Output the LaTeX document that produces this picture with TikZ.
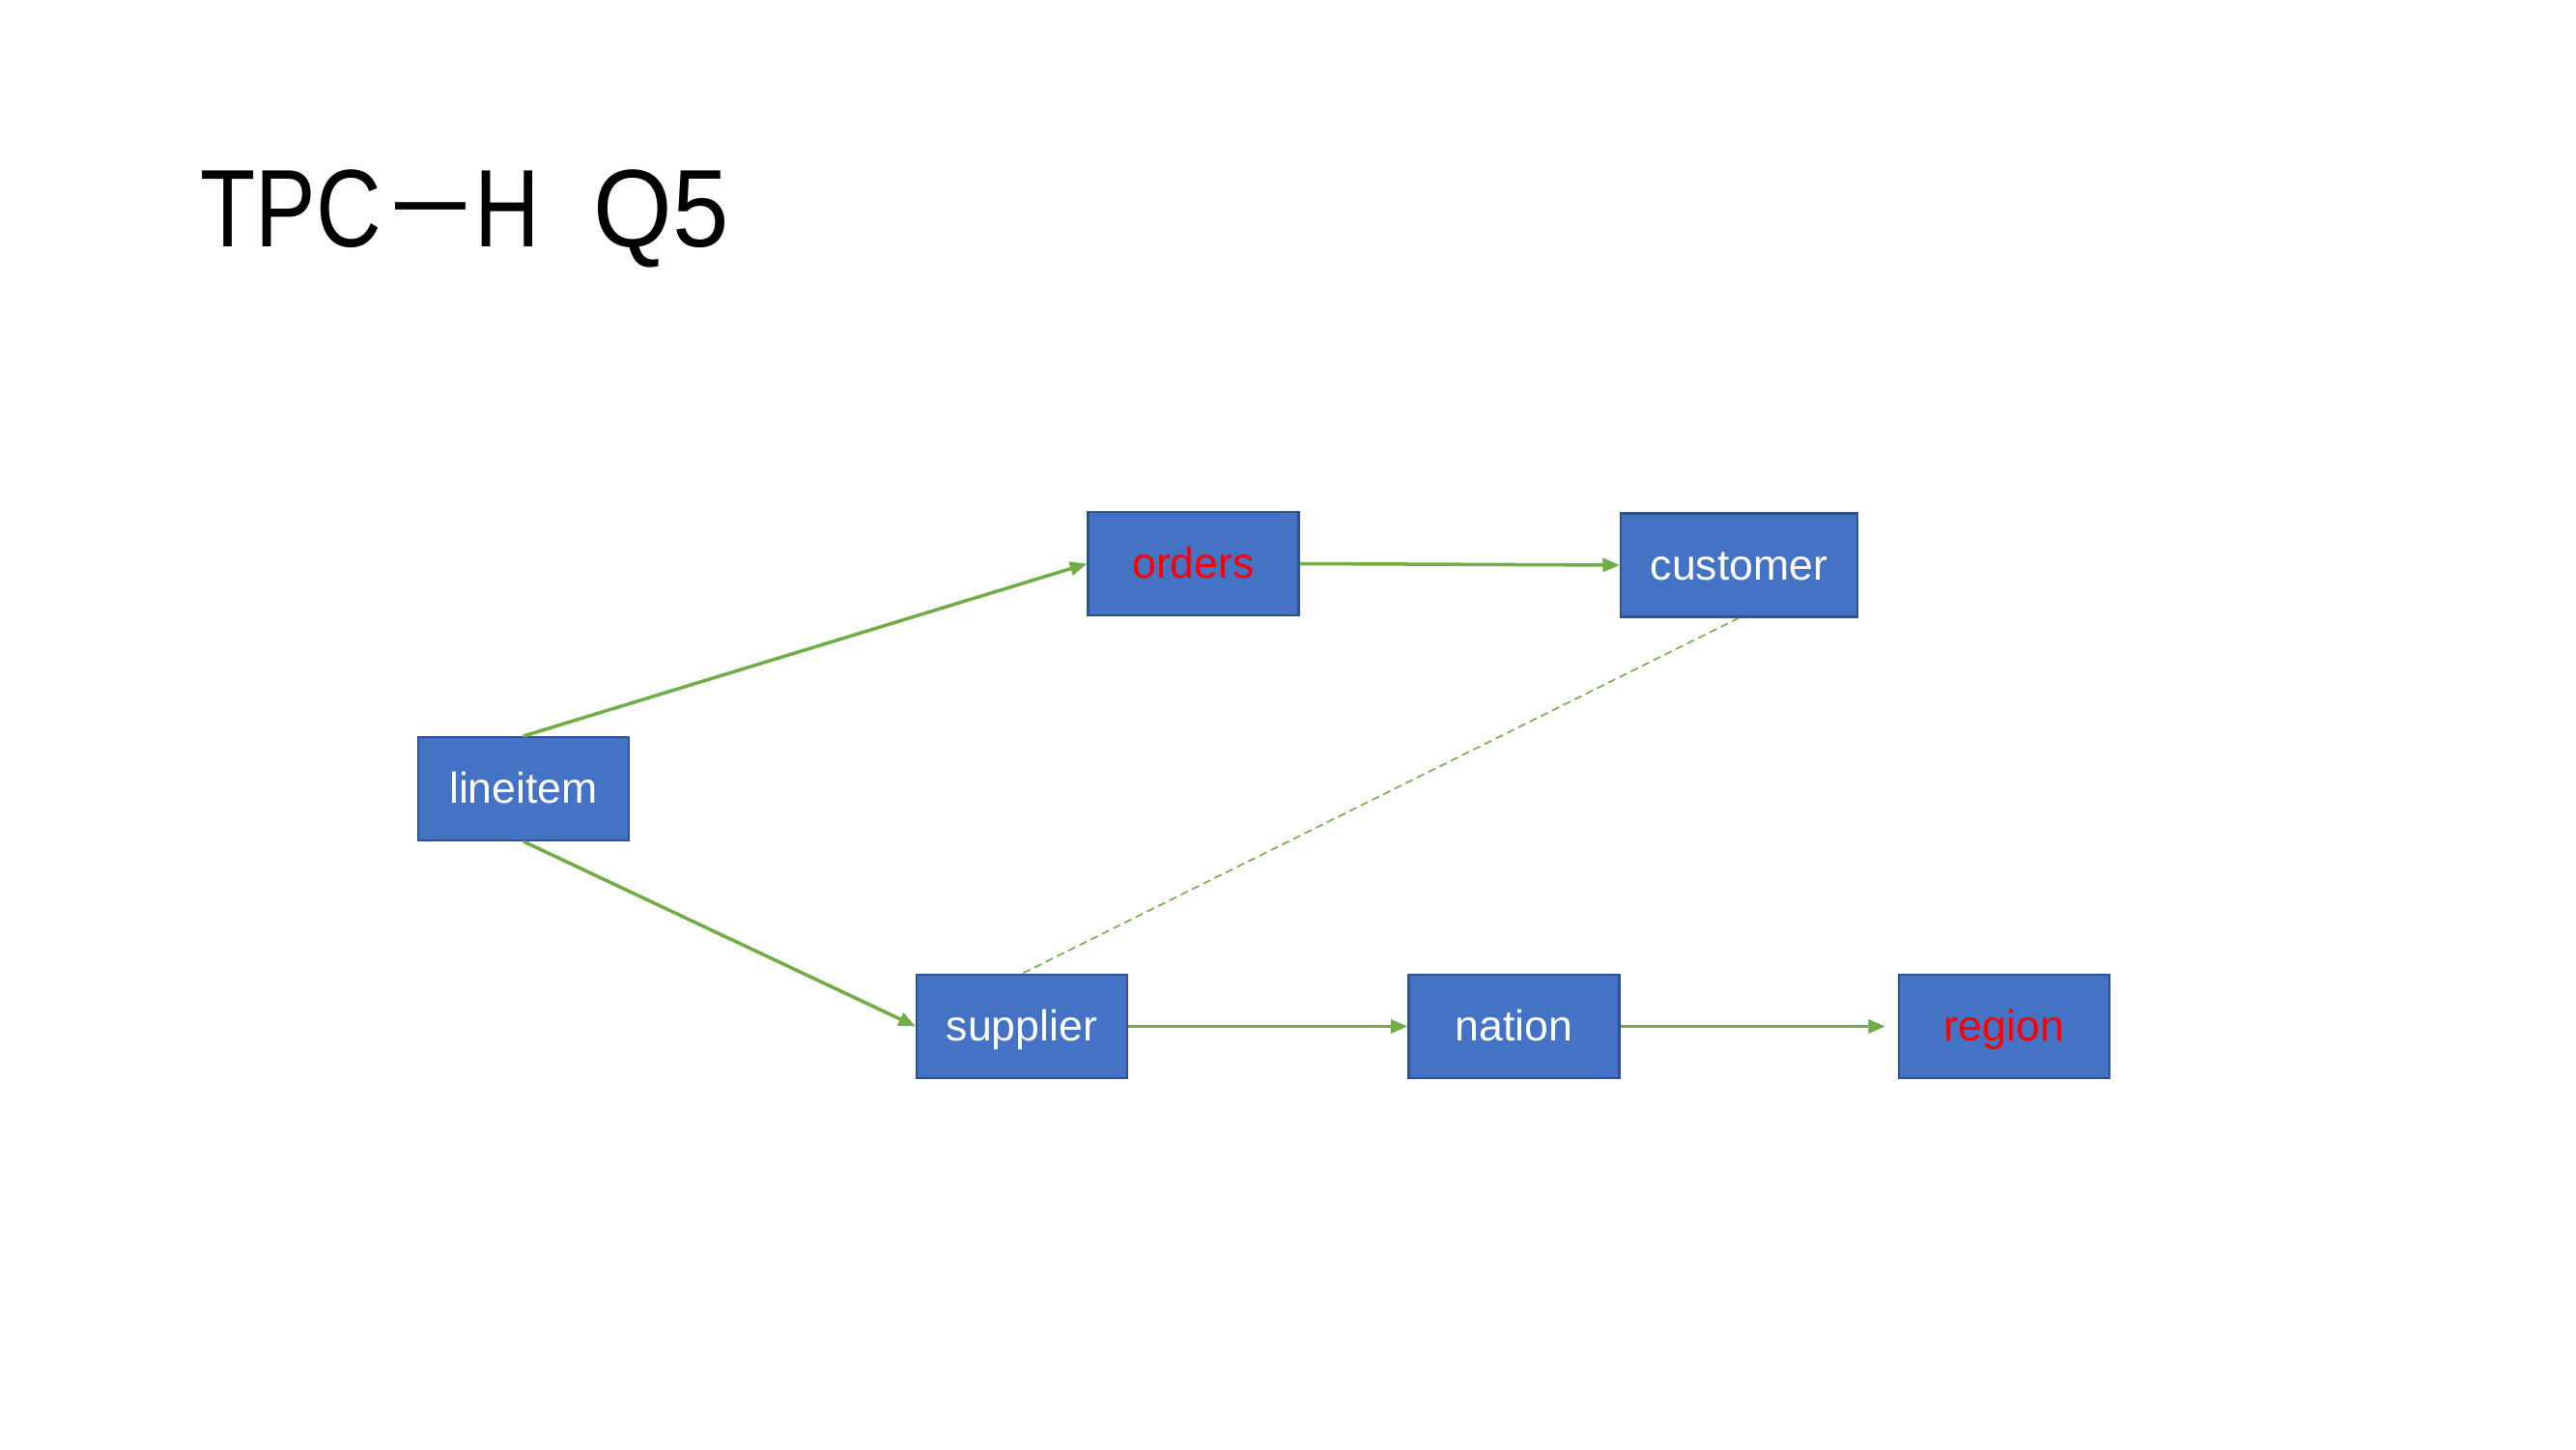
\documentclass[tikz,border=0pt]{standalone}
\usepackage{fontspec}
\setmainfont{Liberation Sans}
\newfontfamily\titlefont[FakeStretch=0.82]{Liberation Sans}
\usepackage{tikz}
\usetikzlibrary{arrows.meta}
\definecolor{boxfill}{HTML}{4472C4}
\definecolor{boxline}{HTML}{2F528F}
\definecolor{linkgreen}{HTML}{70AD47}
\definecolor{hired}{HTML}{FF0000}
\tikzstyle{rel} = [draw=boxline, line width=0.6pt, fill=boxfill, text=white,
    minimum width=2.18cm, minimum height=1.07cm, inner sep=0pt,
    text height=12pt, text depth=3.2pt,
    font=\fontsize{12.7}{15}\selectfont]
\tikzstyle{link} = [draw=linkgreen, line width=1pt, -{Triangle[length=5pt, width=4pt]}]
\tikzstyle{joinlink} = [draw=linkgreen, line width=0.45pt, dash pattern=on 2.3pt off 1.4pt]

\begin{document}
\begin{tikzpicture}
    				\useasboundingbox (0, 0) rectangle (26.67, 15);
    				\node[anchor=base west, inner sep=0pt, font=\titlefont\fontsize{32.5}{38}\selectfont] (title) at (2.07, 12.44) {TPC\kern0.14cm\raisebox{0.12em}{\scalebox{1.4}[1]{–}}\kern0.1cm H\hspace{0.55cm}\scalebox{1.12}[1]{Q5}};
    				\node[rel] (lineitem) at (5.42, 6.835) {lineitem};
    				\node[rel, text=hired] (orders) at (12.355, 9.165) {orders};
    				\node[rel, minimum width=2.45cm] (customer) at (18.005, 9.15) {customer};
    				\node[rel] (supplier) at (10.58, 4.375) {supplier};
    				\node[rel] (nation) at (15.675, 4.375) {nation};
    				\node[rel, text=hired] (region) at (20.75, 4.375) {region};
    				\draw[link] (lineitem.north) -- (orders.west);
    				\draw[link] (orders.east) -- (customer.west);
    				\draw[link] (lineitem.south) -- (supplier.west);
    				\draw[link] (supplier.east) -- (nation.west);
    				\draw[link, shorten >=0.13cm] (nation.east) -- (region.west);
    				\draw[joinlink] (customer.south) -- (supplier.north);
    		\end{tikzpicture}
\end{document}
